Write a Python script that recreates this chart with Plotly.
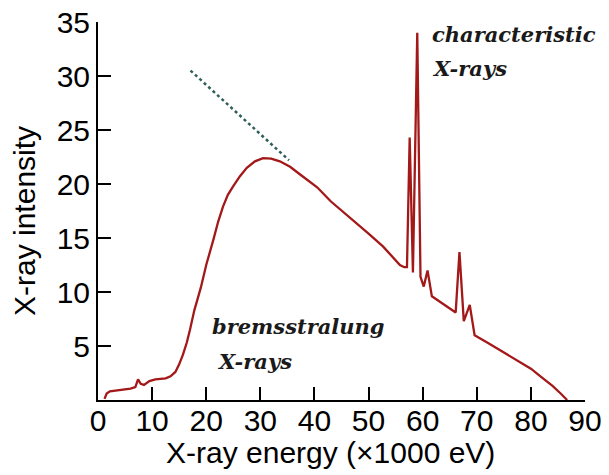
import plotly.graph_objects as go

# Spectrum (x in keV = x1000 eV, y = intensity)
energy = [1.2, 1.6, 2.2, 4.0, 6.0, 6.9, 7.4, 7.9, 8.5, 9.5, 10.6, 12.5, 13.4, 14.3, 15.0,
          15.7, 16.4, 17.0, 17.8, 19.0, 20.0, 21.3, 22.2, 23.1, 24.0, 25.0, 26.2, 27.5,
          29.0, 30.5, 32.0, 33.6, 35.5, 37.3, 40.5, 43.0, 46.6, 50.0, 52.7, 55.8, 56.6,
          57.1, 57.6, 58.2, 59.0, 59.6, 60.2, 60.9, 61.7, 64.0, 66.1, 66.8, 67.6, 68.7,
          69.6, 72.0, 75.0, 78.0, 80.0, 82.0, 84.0, 85.5, 86.7]
intensity = [0.1, 0.6, 0.8, 0.95, 1.05, 1.2, 1.9, 1.5, 1.4, 1.75, 1.9, 2.0, 2.2, 2.6, 3.3,
             4.2, 5.3, 6.5, 8.3, 10.4, 12.5, 14.8, 16.5, 17.9, 19.0, 19.8, 20.7, 21.5,
             22.1, 22.4, 22.35, 22.1, 21.6, 20.9, 19.7, 18.4, 16.9, 15.4, 14.2, 12.5, 12.3,
             12.3, 24.3, 11.8, 34.0, 11.4, 10.5, 12.0, 9.6, 8.8, 8.1, 13.7, 7.3, 8.8,
             6.0, 5.3, 4.4, 3.5, 2.9, 2.1, 1.3, 0.6, 0.0]

# Dotted extrapolation line
tangent_x = [17.1, 35.3]
tangent_y = [30.5, 22.2]

x_ticks = [0, 10, 20, 30, 40, 50, 60, 70, 80, 90]
y_ticks = [5, 10, 15, 20, 25, 30, 35]

fig = go.Figure()
fig.add_trace(go.Scatter(x=energy, y=intensity, mode="lines",
                         line=dict(color="#a31818", width=2.3), hoverinfo="skip"))
fig.add_trace(go.Scatter(x=tangent_x, y=tangent_y, mode="lines",
                         line=dict(color="#2f5f5a", width=2.5, dash="dot"), hoverinfo="skip"))

tick_font = dict(family="Liberation Sans, Arial, sans-serif", size=30, color="black")
label_font = dict(family="DejaVu Serif, serif", size=21, color="#1a1a1a")

# the page body adds an 8px offset; figure size/margins compensate for it
fig.update_layout(
    width=601, height=467,
    margin=dict(l=90, r=24, t=14, b=75),
    paper_bgcolor="white", plot_bgcolor="white",
    showlegend=False,
    xaxis=dict(range=[0, 90], tickvals=x_ticks, ticktext=[str(v) for v in x_ticks],
               showline=True, linecolor="black", linewidth=2, ticks="inside",
               ticklen=13, tickwidth=2, tickcolor="black", showgrid=False,
               zeroline=False, tickfont=tick_font, automargin=False,
               ticklabelstandoff=-7, ticklabeloverflow="allow"),
    yaxis=dict(range=[0, 35], tickvals=y_ticks, ticktext=[str(v) for v in y_ticks],
               showline=True, linecolor="black", linewidth=2, ticks="inside",
               ticklen=13, tickwidth=2, tickcolor="black", showgrid=False,
               zeroline=False, tickfont=tick_font, automargin=False,
               ticklabeloverflow="allow"),
    annotations=[
        dict(text="X-ray energy (\u00d71000 eV)", xref="paper", yref="paper",
             x=0.478, y=-0.1376, xanchor="center", yanchor="middle",
             showarrow=False, font=tick_font),
        dict(text="X-ray intensity", xref="paper", yref="paper",
             x=-0.152, y=0.4735, xanchor="center", yanchor="middle", textangle=-90,
             showarrow=False, font=tick_font),
        dict(text="<b><i>characteristic</i></b>", x=61.4, y=33.8, xanchor="left",
             yanchor="middle", showarrow=False, font=label_font),
        dict(text="<b><i>X-rays</i></b>", x=61.4, y=30.7, xanchor="left",
             yanchor="middle", showarrow=False, font=label_font),
        dict(text="<b><i>bremsstralung</i></b>", x=20.7, y=6.85, xanchor="left",
             yanchor="middle", showarrow=False, font=label_font),
        dict(text="<b><i>X-rays</i></b>", x=21.6, y=3.6, xanchor="left",
             yanchor="middle", showarrow=False, font=label_font),
    ],
)

fig.write_html("out.html")
